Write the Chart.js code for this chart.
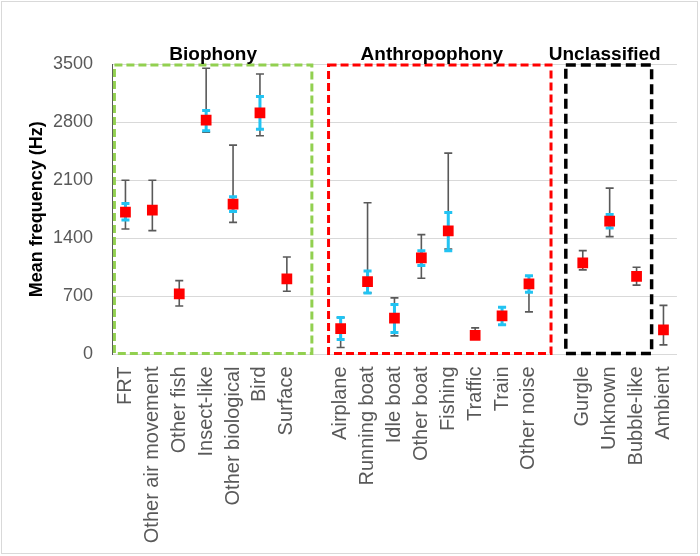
<!DOCTYPE html>
<html>
<head>
<meta charset="utf-8">
<script src="https://cdn.jsdelivr.net/npm/chart.js@4.4.1/dist/chart.umd.min.js"></script>
<style>
  html, body { margin: 0; padding: 0; background: #fff; }
  #wrap { width: 700px; height: 556px; position: relative; }
</style>
</head>
<body>
<div id="wrap"><canvas id="c" width="700" height="556"></canvas></div>
<script>
// ---- Data ----
const categories = ['FRT', 'Other air movement', 'Other fish', 'Insect-like', 'Other biological', 'Bird', 'Surface', '',
  'Airplane', 'Running boat', 'Idle boat', 'Other boat', 'Fishing', 'Traffic', 'Train', 'Other noise', '',
  'Gurgle', 'Unknown', 'Bubble-like', 'Ambient'];
const meanFreq  = [1716, 1740, 730, 2823, 1813, 2911, 910, null, 313, 878, 437, 1163, 1488, 229, 465, 850, null, 1104, 1608, 940, 296];
const rangeLow  = [1512, 1492, 585, 2679, 1592, 2635, 762, null, 84, 742, 225, 918, 1271, 200, 357, 513, null, 1020, 1420, 836, 116];
const rangeHigh = [2100, 2100, 890, 3449, 2522, 3380, 1175, null, 445, 1829, 682, 1444, 2426, 321, 569, 942, null, 1252, 2004, 1052, 592];
const ciLow     = [1620, null, null, 2695, 1724, 2715, null, null, 180, 742, 265, 1071, 1251, null, 357, 750, null, null, 1524, null, null];
const ciHigh    = [1820, null, null, 2939, 1901, 3108, null, null, 445, 1006, 602, 1251, 1712, null, 569, 950, null, null, 1688, null, null];
const yTicks = [0, 700, 1400, 2100, 2800, 3500];
const groupNames = ['Biophony', 'Anthropophony', 'Unclassified'];
const groupFirst = [0, 8, 17];
const groupLast  = [6, 15, 19];

// ---- Styles ----
const groupStyles = [
  { color: '#92D050', dash: [8, 4], width: 3, padL: 0.41, padR: 0.93, titleShift: 0 },
  { color: '#FF0000', dash: [8, 4], width: 3, padL: 0.45, padR: 0.82, titleShift: -8 },
  { color: '#000000', dash: [10, 5], width: 3.5, padL: 0.63, padR: 0.56, titleShift: -4 }
];

const decorPlugin = {
  id: 'decor',
  beforeDatasetsDraw(chart) {
    const ctx = chart.ctx, xs = chart.scales.x, ys = chart.scales.y;
    const step = xs.getPixelForValue(1) - xs.getPixelForValue(0);
    // dashed group boxes and titles
    groupNames.forEach((name, g) => {
      const st = groupStyles[g];
      const l = xs.getPixelForValue(groupFirst[g]) - st.padL * step;
      const r = xs.getPixelForValue(groupLast[g]) + st.padR * step;
      const t = ys.getPixelForValue(3500) + 1;
      const b = ys.getPixelForValue(0) - 1;
      ctx.save();
      ctx.strokeStyle = st.color;
      ctx.lineWidth = st.width;
      ctx.setLineDash(st.dash);
      ctx.strokeRect(l, t, r - l, b - t);
      ctx.restore();
      ctx.save();
      ctx.fillStyle = '#000';
      ctx.font = 'bold 19px "Liberation Sans", Arial, sans-serif';
      ctx.textAlign = 'center';
      ctx.textBaseline = 'alphabetic';
      ctx.fillText(name, (l + r) / 2 + st.titleShift, 60);
      ctx.restore();
    });
    // error bars
    const bar = (i, lo, hi, color, lw, cap) => {
      const x = xs.getPixelForValue(i);
      const y1 = ys.getPixelForValue(lo), y2 = ys.getPixelForValue(hi);
      ctx.save();
      ctx.strokeStyle = color;
      ctx.lineWidth = lw;
      ctx.beginPath();
      ctx.moveTo(x, y1); ctx.lineTo(x, y2);
      ctx.moveTo(x - cap, y1); ctx.lineTo(x + cap, y1);
      ctx.moveTo(x - cap, y2); ctx.lineTo(x + cap, y2);
      ctx.stroke();
      ctx.restore();
    };
    categories.forEach((c, i) => {
      if (rangeLow[i] != null && rangeHigh[i] != null) bar(i, rangeLow[i], rangeHigh[i], '#595959', 1.6, 4);
    });
    categories.forEach((c, i) => {
      if (ciLow[i] != null && ciHigh[i] != null) bar(i, ciLow[i], ciHigh[i], '#22C3F2', 3, 4);
    });
  },
  afterDraw(chart) {
    const ctx = chart.ctx;
    ctx.save();
    ctx.strokeStyle = '#D9D9D9';
    ctx.lineWidth = 1;
    ctx.strokeRect(1.5, 1.5, 696, 552);
    ctx.restore();
  }
};

new Chart(document.getElementById('c'), {
  type: 'line',
  data: {
    labels: categories,
    datasets: [{
      data: meanFreq,
      showLine: false,
      pointStyle: 'rect',
      pointRadius: 7.6,
      pointHoverRadius: 7.6,
      pointBackgroundColor: '#FF0000',
      pointBorderColor: '#FF0000',
      pointBorderWidth: 0
    }]
  },
  options: {
    responsive: false,
    animation: false,
    events: [],
    layout: { padding: { top: 64, right: 22.5, left: 0, bottom: 0 } },
    plugins: { legend: { display: false }, tooltip: { enabled: false } },
    scales: {
      x: {
        type: 'category',
        offset: true,
        grid: { display: false, drawTicks: false },
        border: { display: true, color: '#D9D9D9', width: 1 },
        ticks: {
          autoSkip: false,
          minRotation: 90,
          maxRotation: 90,
          padding: 12,
          color: '#595959',
          font: { family: '"Liberation Sans", Arial, sans-serif', size: 20 }
        },
        afterFit(s) { s.height = 201.5; }
      },
      y: {
        min: 0,
        max: 3500,
        afterBuildTicks(s) { s.ticks = yTicks.map(v => ({ value: v })); },
        grid: { color: '#D9D9D9', lineWidth: 1, drawTicks: false },
        border: { display: true, color: '#595959', width: 1 },
        ticks: {
          padding: 19,
          color: '#595959',
          font: { family: '"Liberation Sans", Arial, sans-serif', size: 18 },
          callback: (v) => String(v)
        },
        title: {
          display: true,
          text: 'Mean frequency (Hz)',
          color: '#000',
          padding: { top: 26, bottom: 0 },
          font: { family: '"Liberation Sans", Arial, sans-serif', size: 18, weight: 'bold' }
        },
        afterFit(s) { s.width = 112; }
      }
    }
  },
  plugins: [decorPlugin]
});
</script>
</body>
</html>
